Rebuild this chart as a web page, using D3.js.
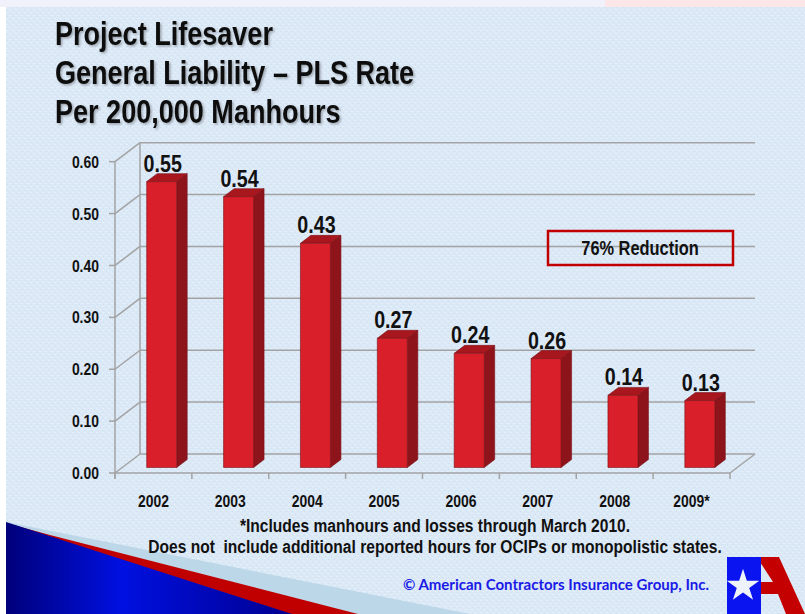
<!DOCTYPE html>
<html>
<head>
<meta charset="utf-8">
<script src="https://cdn.jsdelivr.net/npm/d3@7"></script>
<style>
  body { margin: 0; background: #fff; }
  svg { display: block; }
  .narrow { font-family: "Liberation Sans", Arial, sans-serif; font-weight: bold; }
</style>
</head>
<body>
<svg width="805" height="614"></svg>
<script>
// chart data
const years = ["2002", "2003", "2004", "2005", "2006", "2007", "2008", "2009*"];
const rateLabels = ["0.55", "0.54", "0.43", "0.27", "0.24", "0.26", "0.14", "0.13"];
// bar heights as drawn in the picture (they don't all agree with the labels)
const barRates = [0.551, 0.522, 0.432, 0.249, 0.220, 0.210, 0.139, 0.129];
const yTicks = [0, 0.1, 0.2, 0.3, 0.4, 0.5, 0.6];
const titleLines = ["Project Lifesaver", "General Liability \u2013 PLS Rate", "Per 200,000 Manhours"];
const notes = ["*Includes manhours and losses through March 2010.",
               "Does not  include additional reported hours for OCIPs or monopolistic states."];

var svg = d3.select("svg");

// no narrow font here, so squeeze Liberation Sans Bold horizontally
var squeeze = 0.82;
function narrow(sel, xf) {
    sel.attr("class", "narrow")
       .attr("x", xf)
       .attr("transform", function(d, i) {
           var xv = typeof xf === "function" ? xf(d, i) : xf;
           return "translate(" + xv + ",0) scale(" + squeeze + ",1) translate(" + (-xv) + ",0)";
       });
    return sel;
}

// background
var defs = svg.append("defs");
var pat = defs.append("pattern").attr("id", "tex")
    .attr("width", 6).attr("height", 6).attr("patternUnits", "userSpaceOnUse");
pat.append("rect").attr("width", 6).attr("height", 6).attr("fill", "#dbe8f6");
pat.append("path").attr("d", "M0,0h2v1h-2z M3,3h2v1h-2z").attr("fill", "#e6f0fa");
pat.append("path").attr("d", "M1,4h1v1h-1z M4,1h1v1h-1z").attr("fill", "#cfdff0");

var blueGrad = defs.append("linearGradient").attr("id", "blueGrad");
blueGrad.append("stop").attr("offset", "0%").attr("stop-color", "#00007a");
blueGrad.append("stop").attr("offset", "40%").attr("stop-color", "#0010e0");
blueGrad.append("stop").attr("offset", "100%").attr("stop-color", "#000090");

var shadow = defs.append("filter").attr("id", "shadow")
    .attr("x", "-5%").attr("y", "-20%").attr("width", "120%").attr("height", "150%");
shadow.append("feDropShadow").attr("dx", 1.5).attr("dy", 1.5)
    .attr("stdDeviation", 1).attr("flood-color", "#000").attr("flood-opacity", 0.3);

svg.append("rect").attr("x", 0).attr("y", 0).attr("width", 605).attr("height", 7).attr("fill", "#f1f1fb");
svg.append("rect").attr("x", 605).attr("y", 0).attr("width", 200).attr("height", 7).attr("fill", "#fde6e8");
svg.append("rect").attr("x", 6).attr("y", 7).attr("width", 799).attr("height", 607).attr("fill", "url(#tex)");

// bottom-left swoosh
svg.append("path").attr("d", "M6,522 L470,614 L6,614Z").attr("fill", "#bcd7e8");
svg.append("path").attr("d", "M50,535 L358,614 L290,614 L6,523 Z").attr("fill", "#c00000");
svg.append("path").attr("d", "M6,522 L292,614 L6,614Z").attr("fill", "url(#blueGrad)");

// title
svg.append("g").attr("filter", "url(#shadow)")
  .selectAll("text").data(titleLines).enter().append("text")
    .call(narrow, 55)
    .attr("y", function(d, i) { return 45 + i * 39; })
    .attr("font-size", 33)
    .attr("fill", "#111")
    .text(function(d) { return d; });

// 3d geometry
var depthX = 25, depthY = -19;
var x = d3.scaleBand().domain(years).range([115, 730]);
var y = d3.scaleLinear().domain([0, 0.6]).range([473, 161.7]);

var grid = svg.append("g").attr("stroke", "#a3a3a3").attr("stroke-width", 1.5).attr("fill", "none");
// back wall gridlines
grid.selectAll("line.h").data(yTicks).enter().append("line")
    .attr("x1", 115 + depthX).attr("x2", 730 + depthX)
    .attr("y1", function(d) { return y(d) + depthY; })
    .attr("y2", function(d) { return y(d) + depthY; });
// side wall gridlines
grid.selectAll("line.s").data(yTicks).enter().append("line")
    .attr("x1", 115).attr("x2", 115 + depthX)
    .attr("y1", function(d) { return y(d); })
    .attr("y2", function(d) { return y(d) + depthY; });
grid.append("line").attr("x1", 115 + depthX).attr("x2", 115 + depthX)
    .attr("y1", y(0.6) + depthY).attr("y2", y(0) + depthY);
// floor front edge + right edge
grid.append("line").attr("x1", 115).attr("x2", 730).attr("y1", y(0)).attr("y2", y(0));
grid.append("line").attr("x1", 730).attr("x2", 730 + depthX).attr("y1", y(0)).attr("y2", y(0) + depthY);
grid.append("line").attr("x1", 115).attr("x2", 115).attr("y1", y(0.6)).attr("y2", y(0) + 5);
// y ticks
grid.selectAll("line.yt").data(yTicks).enter().append("line")
    .attr("x1", 109).attr("x2", 115)
    .attr("y1", function(d) { return y(d); })
    .attr("y2", function(d) { return y(d); });
// x ticks at band edges
grid.selectAll("line.xt").data(years.concat(["end"])).enter().append("line")
    .attr("x1", function(d, i) { return 115 + i * x.bandwidth(); })
    .attr("x2", function(d, i) { return 115 + i * x.bandwidth(); })
    .attr("y1", y(0)).attr("y2", y(0) + 6);

// y tick labels
svg.append("g").selectAll("text").data(yTicks).enter().append("text")
    .call(narrow, 99)
    .attr("y", function(d) { return y(d); })
    .attr("dy", "0.36em").attr("text-anchor", "end")
    .attr("font-size", 17).attr("fill", "#111")
    .text(function(d) { return d3.format(".2f")(d); });

// x labels
svg.append("g").selectAll("text").data(years).enter().append("text")
    .call(narrow, function(d) { return x(d) + x.bandwidth() / 2; })
    .attr("y", 507).attr("text-anchor", "middle")
    .attr("font-size", 17).attr("fill", "#111")
    .text(function(d) { return d; });

// bars
var f0 = 0.29, fd = 0.42, barW = 30;
var bdx = depthX * fd, bdy = depthY * fd;
var bars = svg.append("g").selectAll("g").data(years).enter().append("g")
    .attr("stroke", "#7a1015").attr("stroke-width", 0.6).attr("stroke-linejoin", "round");
function bx(d) { return x(d) + x.bandwidth() / 2 - barW / 2 + depthX * f0 + 1; }
function by(v) { return y(v) + depthY * f0; }
var b0 = by(0);
// side
bars.append("path").attr("fill", "#8c141a")
    .attr("d", function(d, i) {
        var x1 = bx(d) + barW, t = by(barRates[i]);
        return "M" + x1 + "," + t + "l" + bdx + "," + bdy + "V" + (b0 + bdy) + "l" + (-bdx) + "," + (-bdy) + "Z";
    });
// top
bars.append("path").attr("fill", "#a8161e")
    .attr("d", function(d, i) {
        var x0 = bx(d), t = by(barRates[i]);
        return "M" + x0 + "," + t + "l" + bdx + "," + bdy + "h" + barW + "l" + (-bdx) + "," + (-bdy) + "Z";
    });
// front
bars.append("rect").attr("fill", "#d91f29")
    .attr("x", function(d) { return bx(d); })
    .attr("y", function(d, i) { return by(barRates[i]); })
    .attr("width", barW)
    .attr("height", function(d, i) { return b0 - by(barRates[i]); });

// value labels
svg.append("g").selectAll("text").data(years).enter().append("text")
    .call(narrow, function(d) { return bx(d) + barW / 2 + 1; })
    .attr("y", function(d, i) { return by(barRates[i]) + bdy - 2; })
    .attr("text-anchor", "middle")
    .attr("font-size", 24).attr("fill", "#111")
    .text(function(d, i) { return rateLabels[i]; });

// reduction box
svg.append("rect").attr("x", 548).attr("y", 231).attr("width", 185).attr("height", 34)
    .attr("fill", "none").attr("stroke", "#c00000").attr("stroke-width", 2.5);
svg.append("text")
    .call(narrow, 640)
    .attr("y", 255).attr("text-anchor", "middle")
    .attr("font-size", 20).attr("fill", "#111")
    .text("76% Reduction");

// footnotes
svg.append("g").selectAll("text").data(notes).enter().append("text")
    .call(narrow, 435)
    .attr("y", function(d, i) { return 532 + i * 21; })
    .attr("text-anchor", "middle")
    .attr("font-size", 19).attr("fill", "#111")
    .style("white-space", "pre")
    .text(function(d) { return d; });

svg.append("text")
    .attr("x", 709).attr("y", 590).attr("text-anchor", "end")
    .attr("font-family", "Lato, 'Open Sans', sans-serif").attr("font-weight", "bold")
    .attr("font-size", 15).attr("fill", "#1a1ae6")
    .text("\u00a9 American Contractors Insurance Group, Inc.");

// logo
var logo = svg.append("g");
logo.append("path").attr("fill", "#c40000")
    .attr("d", "M760,557 H779 L805,614 H786 L778,594 H760 Z");
logo.append("path").attr("fill", "#dbe8f6")
    .attr("d", "M760,562 L773,582 H760 Z");
logo.append("rect").attr("x", 727).attr("y", 557).attr("width", 34).attr("height", 57).attr("fill", "#0a14f0");
var star = d3.symbol().type(d3.symbolStar).size(330);
logo.append("path").attr("d", star()).attr("transform", "translate(743,586)").attr("fill", "#eef2fb");
</script>
</body>
</html>
